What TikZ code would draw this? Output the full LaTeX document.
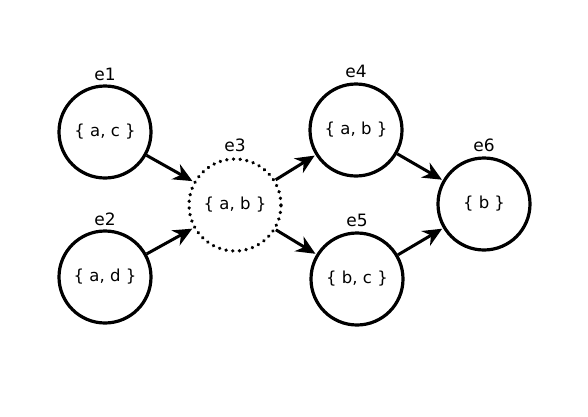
\documentclass[tikz,border=0pt]{standalone}
\usepackage{fontspec}
\setmainfont{DejaVu Sans}
\usetikzlibrary{arrows.meta}
\begin{document}
\begin{tikzpicture}[x=1pt,y=-1pt,
  state/.style={circle,draw=black,line width=3.2pt,minimum size=92pt,inner sep=0pt,font=\fontsize{16.5}{18}\selectfont},
  dotstate/.style={state,line cap=round,dash pattern=on 0.1pt off 6.6pt,line width=3.6pt},
  lbl/.style={font=\fontsize{17}{19}\selectfont,inner sep=0pt},
  arr/.style={line width=3pt,-{Stealth[length=19pt,width=17pt,inset=6pt]},shorten >=1pt}]
\useasboundingbox (0,0) rectangle (588,416);
\node[state] (e1) at (105,132) {\{ a, c \}};
\node[state] (e2) at (105,277) {\{ a, d \}};
\node[dotstate] (e3) at (235,205) {\{ a, b \}};
\node[state] (e4) at (356,130) {\{ a, b \}};
\node[state] (e5) at (357,279) {\{ b, c \}};
\node[state] (e6) at (484,204) {\{ b \}};
\node[lbl] (l1) at (105,74) {e1};
\node[lbl] (l2) at (105,219) {e2};
\node[lbl] (l3) at (235,145) {e3};
\node[lbl] (l4) at (356,71) {e4};
\node[lbl] (l5) at (357,220) {e5};
\node[lbl] (l6) at (484,145) {e6};
\draw[arr] (e1) -- (e3);
\draw[arr] (e2) -- (e3);
\draw[arr] (e3) -- (e4);
\draw[arr] (e3) -- (e5);
\draw[arr] (e4) -- (e6);
\draw[arr] (e5) -- (e6);
\end{tikzpicture}
\end{document}
